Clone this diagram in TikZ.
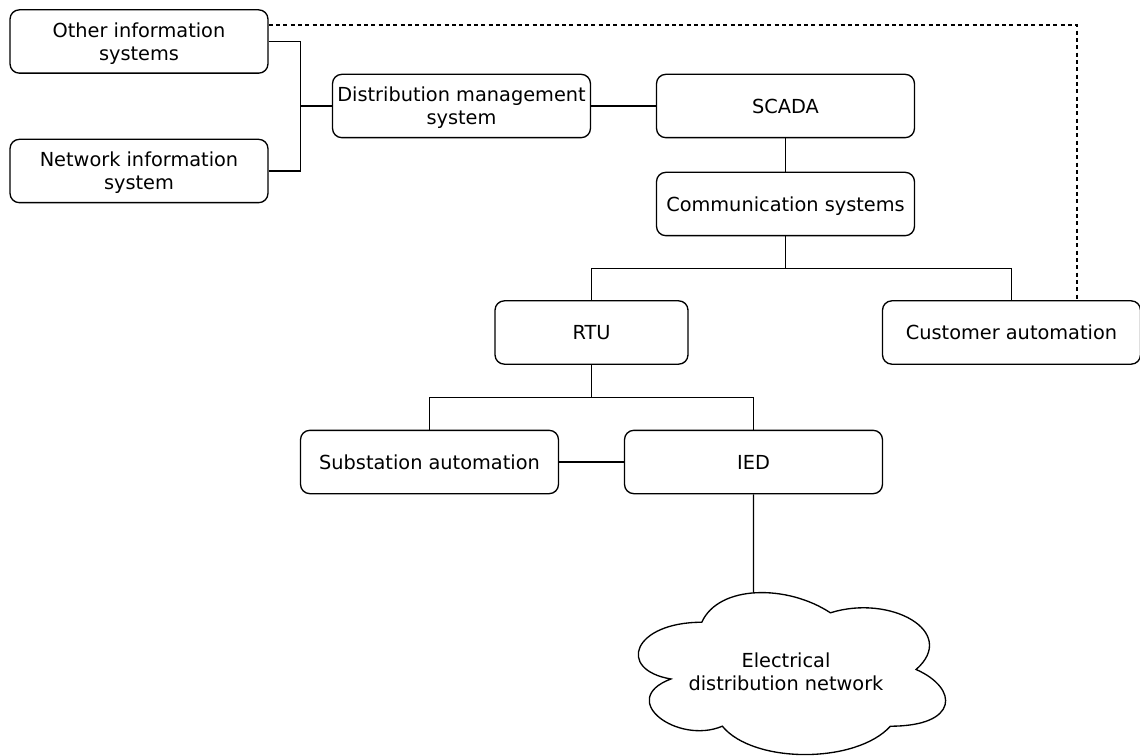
\documentclass[tikz,border=0pt]{standalone}
\usepackage{fontspec}
\setmainfont{DejaVu Sans}
\usetikzlibrary{calc,intersections}
\begin{document}
\begin{tikzpicture}[x=0.75pt,y=-0.75pt,
  box/.style={draw, line width=1pt, rounded corners=7pt, align=center,
    inner sep=0pt, minimum width=193.5pt, minimum height=47.5pt,
    text depth=0pt, font=\fontsize{14.5}{17.3}\selectfont},
  twoline/.style={box, text depth=-6pt},
  narrowbox/.style={box, minimum width=144.75pt},
  link/.style={line width=1pt},
  dashlink/.style={line width=1pt, dash pattern=on 3pt off 2.5pt},
  label/.style={align=center, inner sep=0pt, font=\fontsize{14.5}{17.3}\selectfont}]
\useasboundingbox (0,0) rectangle (1140,756);

% systems
\node[twoline] (other)   at (139,41.5)   {Other information\\systems};
\node[twoline] (network) at (139,171)    {Network information\\system};
\node[twoline] (dms)     at (461.5,106)  {Distribution management\\system};
\node[box] (scada)   at (785.5,106)  {SCADA};
\node[box] (comm)    at (785.5,204)  {Communication systems};
\node[narrowbox] (rtu) at (591.5,332.5) {RTU};
\node[box] (cust)    at (1011.5,332.5) {Customer automation};
\node[box] (sub)     at (429.5,462)  {Substation automation};
\node[box] (ied)     at (753.5,462)  {IED};

% electrical network cloud
\draw[link, name path=cloud]
  (701.75,622.25)
  .. controls (633.15,622.25) and (616,669.5) .. (670.88,679)
  .. controls (616,699.74) and (677.74,745.1) .. (722.33,726.2)
  .. controls (753.2,764) and (856.1,764) .. (890.4,726.2)
  .. controls (959,726.2) and (959,688.4) .. (916.1,669.5)
  .. controls (959,631.7) and (890.4,593.9) .. (830.4,612.8)
  .. controls (787.5,584.45) and (718.9,584.45) .. (701.75,622.25) -- cycle;
\node[label] (net) at (786,672) {Electrical\\distribution network};

% junction points
\path (other.east) -- (dms.west) coordinate[pos=0.5] (m1);
\coordinate (j1) at (m1 |- dms.west);
\coordinate (j2) at ($(comm.south)!0.5!(comm.south |- rtu.north)$);
\coordinate (j3) at ($(rtu.south)!0.5!(rtu.south |- sub.north)$);

% connectors
\draw[link] (other.east) -| (j1) |- (network.east);
\draw[link] (j1) -- (dms.west);
\draw[link] (dms.east) -- (scada.west);
\draw[link] (scada.south) -- (comm.north);
\draw[link] (comm.south) -- (j2);
\draw[link] (rtu.north) |- (j2) -| (cust.north);
\draw[link] (rtu.south) -- (j3);
\draw[link] (sub.north) |- (j3) -| (ied.north);
\draw[link] (sub.east) -- (ied.west);
\path[name path=drop] (ied.south) -- ++(0,200);
\draw[link, name intersections={of=drop and cloud, by=ctop}] (ied.south) -- (ctop);
\draw[dashlink] ([yshift=12.4pt]other.east) -| ([xshift=49.1pt]cust.north);
\end{tikzpicture}
\end{document}
